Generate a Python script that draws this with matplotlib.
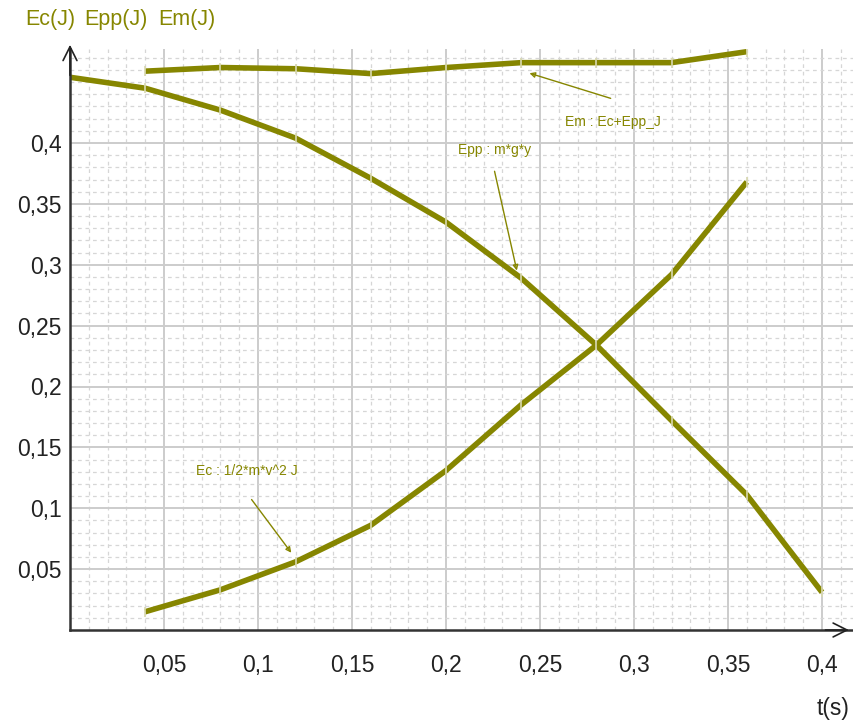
import matplotlib
matplotlib.use("Agg")
import matplotlib.pyplot as plt
from matplotlib.ticker import MultipleLocator, FixedLocator

# values
t_epp = [0.0, 0.04, 0.08, 0.12, 0.16, 0.20, 0.24, 0.28, 0.32, 0.36, 0.40]
epp = [0.454, 0.445, 0.427, 0.404, 0.371, 0.335, 0.289, 0.234, 0.172, 0.111, 0.031]
t_ec = [0.04, 0.08, 0.12, 0.16, 0.20, 0.24, 0.28, 0.32, 0.36]
ec = [0.015, 0.033, 0.056, 0.086, 0.131, 0.185, 0.234, 0.292, 0.368]
em = [0.459, 0.462, 0.461, 0.457, 0.462, 0.466, 0.466, 0.466, 0.475]

x_ticks = [0.05, 0.1, 0.15, 0.2, 0.25, 0.3, 0.35, 0.4]
y_ticks = [0.05, 0.1, 0.15, 0.2, 0.25, 0.3, 0.35, 0.4]
top_labels = ["Ec(J)", "Epp(J)", "Em(J)"]

olive = "#868600"
plt.rcParams["font.family"] = ["Liberation Sans", "DejaVu Sans"]

fig = plt.figure(figsize=(8.54, 7.27), dpi=100)
ax = fig.add_axes([70 / 854, 97 / 727, 784 / 854, 581 / 727])
ax.set_xlim(0, 784 / 1880)
ax.set_ylim(0, 581 / 1217.5)

ax.xaxis.set_major_locator(FixedLocator(x_ticks))
ax.yaxis.set_major_locator(FixedLocator(y_ticks))
ax.xaxis.set_minor_locator(MultipleLocator(0.01))
ax.yaxis.set_minor_locator(MultipleLocator(0.01))
ax.xaxis.set_major_formatter(lambda v, p: ("%g" % v).replace(".", ","))
ax.yaxis.set_major_formatter(lambda v, p: ("%g" % v).replace(".", ","))
ax.grid(which="major", color="#cccccc", lw=1.4, ls="-")
ax.grid(which="minor", color="#d6d6d6", lw=0.9, ls=(0, (3, 3)))
ax.set_axisbelow(True)
ax.tick_params(which="both", length=0, labelsize=16.5, colors="#222222")
ax.tick_params(axis="x", pad=17)
ax.tick_params(axis="y", pad=6)

for s in ["top", "right"]:
    ax.spines[s].set_visible(False)
for s in ["left", "bottom"]:
    ax.spines[s].set_color("#333333")
    ax.spines[s].set_linewidth(1.8)

kw = dict(color=olive, lw=4, marker="|", ms=7, mec="#d8d8b0", mew=1.2, solid_capstyle="butt")
ax.plot(t_epp, epp, **kw)
ax.plot(t_ec, ec, **kw)
ax.plot(t_ec, em, **kw)

# axis arrow heads
ax.annotate("", xy=(0, 1.012), xytext=(0, 0.95), xycoords="axes fraction",
            arrowprops=dict(arrowstyle="->", color="#222222", lw=1.2, mutation_scale=25),
            annotation_clip=False)
ax.annotate("", xy=(0.997, 0), xytext=(0.96, 0), xycoords="axes fraction",
            arrowprops=dict(arrowstyle="->", color="#222222", lw=1.2, mutation_scale=25),
            annotation_clip=False)

# curve labels
akw = dict(arrowstyle="-|>", color=olive, lw=1, mutation_scale=8, fill=False)
ax.annotate("", xy=(0.243, 0.458), xytext=(0.289, 0.436), arrowprops=akw)
ax.text(0.289, 0.417, "Em : Ec+Epp_J", color=olive, fontsize=10, ha="center", va="center")
ax.annotate("", xy=(0.238, 0.293), xytext=(0.2255, 0.379), arrowprops=akw)
ax.text(0.226, 0.394, "Epp : m*g*y", color=olive, fontsize=10, ha="center", va="center")
ax.annotate("", xy=(0.1186, 0.0616), xytext=(0.0957, 0.109), arrowprops=akw)
ax.text(0.094, 0.131, "Ec : 1/2*m*v^2 J", color=olive, fontsize=10, ha="center", va="center")

for lbl, xc in zip(top_labels, [50, 116, 187]):
    fig.text(xc / 854, 1 - 20 / 727, lbl, color=olive, fontsize=15.5,
             ha="center", va="center")
fig.text(850 / 854, 1 - 708 / 727, "t(s)", color="#222222", fontsize=16.5,
         ha="right", va="center")

fig.savefig("out.png", dpi=100)
